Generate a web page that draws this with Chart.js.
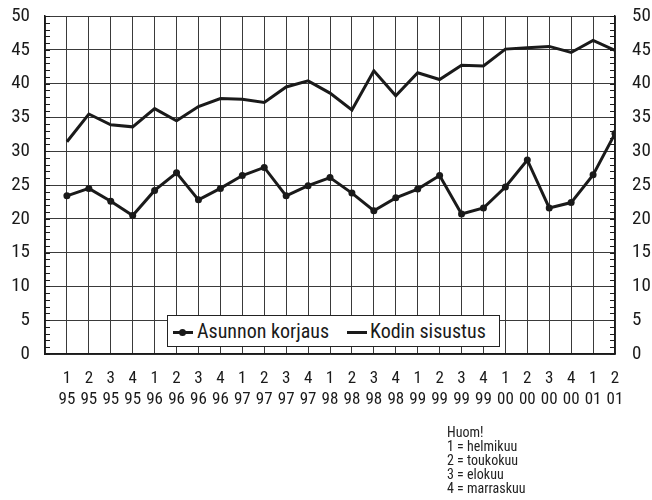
<!DOCTYPE html>
<html>
<head>
<meta charset="utf-8">
<script src="https://cdn.jsdelivr.net/npm/chart.js@4.4.1/dist/chart.umd.min.js"></script>
<style>
  body { margin: 0; background: #fff; }
  #wrap { position: relative; width: 652px; height: 500px; }
  #legend {
    position: absolute; left: 167px; top: 315px; width: 331px; height: 30px;
    border: 1px solid #222; background: #fff;
    font-family: "Roboto Condensed", "Liberation Sans", Arial, sans-serif;
    font-size: 20px; color: #1a1a1a; line-height: 30px; white-space: nowrap;
  }
  #legend .item { position: absolute; top: 0; }
  #legend .mark { position: absolute; top: 15px; height: 3px; background: #1a1a1a; }
  #legend .dot { position: absolute; top: -2px; width: 7px; height: 7px; border-radius: 50%; background: #1a1a1a; }
  #note {
    position: absolute; left: 447px; top: 425px;
    font-family: "Roboto Condensed", "Liberation Sans", Arial, sans-serif;
    font-size: 14px; line-height: 14px; color: #222;
  }
</style>
</head>
<body>
<div id="wrap">
  <canvas id="chart" width="652" height="500"></canvas>
  <div id="legend"></div>
  <div id="note">Huom!<br>1 = helmikuu<br>2 = toukokuu<br>3 = elokuu<br>4 = marraskuu</div>
</div>
<script>
const quarters = ["1","2","3","4","1","2","3","4","1","2","3","4","1","2","3","4","1","2","3","4","1","2","3","4","1","2"];
const years = ["95","95","95","95","96","96","96","96","97","97","97","97","98","98","98","98","99","99","99","99","00","00","00","00","01","01"];
const asunnonKorjaus = [23.4, 24.5, 22.6, 20.5, 24.2, 26.8, 22.8, 24.5, 26.4, 27.6, 23.4, 24.9, 26.1, 23.8, 21.2, 23.1, 24.4, 26.4, 20.7, 21.6, 24.7, 28.7, 21.6, 22.4, 26.5, 32.6];
const kodinSisustus = [31.4, 35.5, 33.9, 33.6, 36.3, 34.5, 36.6, 37.8, 37.7, 37.2, 39.5, 40.4, 38.6, 36.1, 41.9, 38.2, 41.6, 40.6, 42.7, 42.6, 45.1, 45.3, 45.5, 44.6, 46.4, 44.9];
const seriesNames = ["Asunnon korjaus", "Kodin sisustus"];

const ink = "#1a1a1a";
const gridColor = "#3a3a3a";
const font = "'Roboto Condensed', 'Liberation Sans', Arial, sans-serif";

function toPoints(arr) {
  return arr.map(function (v, i) { return { x: i + 1, y: v }; });
}

// fixed axis widths, no extra label overflow padding
function fixWidth(w) {
  return function (s) {
    s.width = w;
    s.paddingTop = 0;
    s.paddingBottom = 0;
  };
}

// small inward ticks on both value axes
const minorTicks = {
  id: "minorTicks",
  beforeDatasetsDraw: function (chart) {
    const ctx = chart.ctx;
    const y = chart.scales.y;
    const area = chart.chartArea;
    ctx.save();
    ctx.strokeStyle = ink;
    ctx.lineWidth = 1;
    ctx.beginPath();
    for (let v = 0; v <= 50; v++) {
      const py = Math.round(y.getPixelForValue(v)) + 0.5;
      ctx.moveTo(area.left, py);
      ctx.lineTo(area.left + 5, py);
      ctx.moveTo(area.right, py);
      ctx.lineTo(area.right - 5, py);
    }
    ctx.stroke();
    ctx.restore();
  },
};

new Chart(document.getElementById("chart"), {
  type: "line",
  data: {
    datasets: [
      {
        label: seriesNames[0],
        data: toPoints(asunnonKorjaus),
        borderColor: ink,
        backgroundColor: ink,
        borderWidth: 3,
        pointRadius: 3.5,
        pointBackgroundColor: ink,
        pointBorderWidth: 0,
        tension: 0,
      },
      {
        label: seriesNames[1],
        data: toPoints(kodinSisustus),
        borderColor: ink,
        backgroundColor: ink,
        borderWidth: 3,
        pointRadius: 0,
        tension: 0,
      },
    ],
  },
  options: {
    responsive: false,
    animation: false,
    layout: { padding: { top: 16, left: 0, right: 0, bottom: 0 } },
    plugins: {
      legend: { display: false },
      tooltip: { enabled: false },
    },
    scales: {
      x: {
        type: "linear",
        min: 0,
        max: 26,
        afterFit: function (s) { s.height = 146; },
        grid: { color: gridColor, lineWidth: 1, drawTicks: false },
        border: { color: ink, width: 1.5 },
        ticks: {
          stepSize: 1,
          autoSkip: false,
          maxRotation: 0,
          padding: 15,
          color: ink,
          font: { family: font, size: 17, lineHeight: 1.2 },
          callback: function (v) {
            if (v < 1) return "";
            return [quarters[v - 1], years[v - 1]];
          },
        },
      },
      y: {
        position: "left",
        min: 0,
        max: 50,
        afterFit: fixWidth(45),
        grid: { color: gridColor, lineWidth: 1, drawTicks: false },
        border: { color: ink, width: 1.5 },
        ticks: { stepSize: 5, padding: 15, color: ink, font: { family: font, size: 19 } },
      },
      y2: {
        position: "right",
        min: 0,
        max: 50,
        afterFit: fixWidth(37),
        grid: { drawOnChartArea: false, drawTicks: false },
        border: { color: ink, width: 1.5 },
        ticks: { stepSize: 5, padding: 17, color: ink, font: { family: font, size: 19 } },
      },
    },
  },
  plugins: [minorTicks],
});

// legend box placed inside the plot, like the original
const legend = document.getElementById("legend");
legend.innerHTML =
  '<span class="item" style="left:5px;width:175px;">' +
  '<span class="mark" style="left:0;width:20px;"><span class="dot" style="left:6px;"></span></span>' +
  '<span style="position:absolute;left:24px;">' + seriesNames[0] + "</span></span>" +
  '<span class="item" style="left:179px;width:150px;">' +
  '<span class="mark" style="left:0;width:20px;"></span>' +
  '<span style="position:absolute;left:23px;">' + seriesNames[1] + "</span></span>";
</script>
</body>
</html>
